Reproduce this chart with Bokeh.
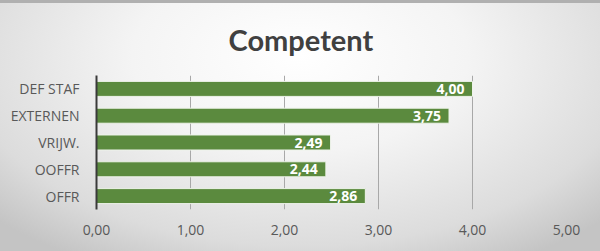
from bokeh.plotting import figure
from bokeh.models import ColumnDataSource, FixedTicker
from bokeh.core.properties import value
from bokeh.embed import file_html
from bokeh.resources import INLINE

categories = ["OFFR", "OOFFR", "VRIJW.", "EXTERNEN", "DEF STAF"]
scores = [2.86, 2.44, 2.49, 3.75, 4.00]
score_labels = ["2,86", "2,44", "2,49", "3,75", "4,00"]
tick_values = [0, 1, 2, 3, 4, 5]
tick_labels = ["0,00", "1,00", "2,00", "3,00", "4,00", "5,00"]
title_text = "Competent"

src = ColumnDataSource(dict(cat=categories, val=scores, lab=score_labels))

p = figure(width=600, height=251, y_range=categories, x_range=(0, 5),
           title=title_text,
           output_backend="svg", toolbar_location=None,
           min_border_left=96, min_border_right=34, min_border_top=0, min_border_bottom=42,
           background_fill_color=None, border_fill_color=None, outline_line_color=None,
           styles={"background": "radial-gradient(ellipse 70% 95% at 50% 22%, #ffffff 0%, #f4f4f4 40%, #dcdcdc 80%, #c4c4c4 100%)",
                   "box-shadow": "inset 0 3px 0 #b0b0b0"})

p.title.align = "left"
p.title.text_font = "Lato"
p.title.text_font_style = "bold"
p.title.text_font_size = "29px"
p.title.text_color = "#404040"
p.title.standoff = 38
p.title.offset = 132

p.hbar(y="cat", right="val", left=0, height=0.56, source=src,
       fill_color="#5b8a3e", line_color="#eef3ea", line_width=1)

p.text(x="val", y="cat", text="lab", source=src, x_offset=-8,
       text_align="right", text_baseline="middle", text_color="white",
       text_font=value("Open Sans"), text_font_style="bold", text_font_size="14px")

p.xaxis.ticker = FixedTicker(ticks=tick_values)
p.xaxis.major_label_overrides = {t: l for t, l in zip(tick_values, tick_labels)}
p.xaxis.axis_line_color = None
p.xaxis.major_tick_line_color = None
p.xaxis.minor_tick_line_color = None
p.xaxis.major_label_standoff = 9
p.xaxis.major_label_text_font = "Open Sans"
p.xaxis.major_label_text_font_size = "14px"
p.xaxis.major_label_text_color = "#595959"

p.yaxis.axis_line_color = "#3a3a3a"
p.yaxis.axis_line_width = 2
p.yaxis.major_tick_line_color = None
p.yaxis.minor_tick_line_color = None
p.yaxis.major_label_standoff = 11
p.yaxis.major_label_text_font = "Open Sans"
p.yaxis.major_label_text_font_size = "14px"
p.yaxis.major_label_text_color = "#595959"

p.xgrid.ticker = FixedTicker(ticks=tick_values)
p.xgrid.grid_line_color = "#a8a8a8"
p.xgrid.grid_line_width = 1
p.ygrid.grid_line_color = None

open("out.html", "w").write(file_html(p, INLINE))
